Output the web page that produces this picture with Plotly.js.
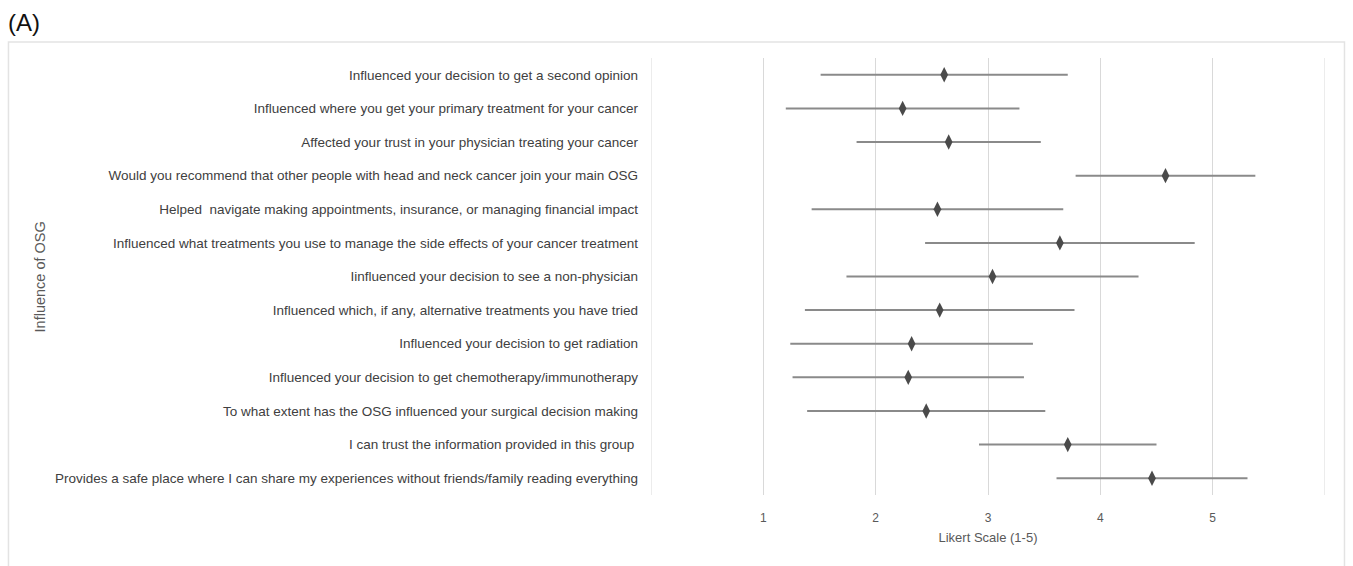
<!DOCTYPE html>
<html>
<head>
<meta charset="utf-8">
<script src="https://cdn.plot.ly/plotly-3.0.1.min.js"></script>
<style>
html,body{margin:0;padding:0;background:#fff;}
#chart{width:1353px;height:566px;}
</style>
</head>
<body>
<div id="chart"></div>
<script>
const items = [
  "Influenced your decision to get a second opinion",
  "Influenced where you get your primary treatment for your cancer",
  "Affected your trust in your physician treating your cancer",
  "Would you recommend that other people with head and neck cancer join your main OSG",
  "Helped  navigate making appointments, insurance, or managing financial impact",
  "Influenced what treatments you use to manage the side effects of your cancer treatment",
  "Iinfluenced your decision to see a non-physician",
  "Influenced which, if any, alternative treatments you have tried",
  "Influenced your decision to get radiation",
  "Influenced your decision to get chemotherapy/immunotherapy",
  "To what extent has the OSG influenced your surgical decision making",
  "I can trust the information provided in this group ",
  "Provides a safe place where I can share my experiences without friends/family reading everything"
];
const means = [2.61, 2.24, 2.65, 4.58, 2.55, 3.64, 3.04, 2.57, 2.32, 2.29, 2.45, 3.71, 4.46];
const sds   = [1.10, 1.04, 0.82, 0.80, 1.12, 1.20, 1.30, 1.20, 1.08, 1.03, 1.06, 0.79, 0.85];
const tickVals = [0, 1, 2, 3, 4, 5, 6];
const tickText = ["", "1", "2", "3", "4", "5", ""];

const L = 651, R = 27.5, T = 58, B = 71;
const W = 1353 - L - R, H = 566 - T - B;
const px = v => (v - L) / W;
const py = v => (566 - B - v) / H;

const trace = {
  type: "scatter",
  mode: "markers",
  x: means,
  y: items,
  marker: {symbol: "diamond-tall", size: 11, color: "#4a4a4a"},
  error_x: {type: "data", array: sds, visible: true, width: 0, thickness: 2, color: "#8a8a8a"},
  hoverinfo: "x+y"
};

const edgeLines = [tickVals[0], tickVals[tickVals.length - 1]].map(v => ({
  type: "line", xref: "x", yref: "paper", x0: v, x1: v, y0: 0, y1: 1,
  line: {color: "#d9d9d9", width: 1}, layer: "below"
}));

const layout = {
  width: 1353, height: 566,
  margin: {l: L, r: R, t: T, b: B, pad: 0},
  paper_bgcolor: "#ffffff",
  plot_bgcolor: "#ffffff",
  showlegend: false,
  font: {family: "Liberation Sans, Arial, sans-serif", color: "#404040"},
  xaxis: {
    range: [0, 6],
    tickvals: tickVals,
    ticktext: tickText,
    showgrid: true,
    gridcolor: "#d9d9d9",
    gridwidth: 1,
    zeroline: false,
    showline: false,
    ticks: "",
    tickfont: {size: 12, color: "#595959"},
    ticklabelstandoff: 14,
    title: {text: "Likert Scale (1-5)", font: {size: 13, color: "#595959"}, standoff: 8}
  },
  yaxis: {
    type: "category",
    categoryorder: "array",
    categoryarray: items,
    range: [items.length - 0.5, -0.5],
    showgrid: false,
    zeroline: false,
    showline: false,
    ticks: "",
    tickfont: {size: 13.5, color: "#404040"},
    ticklabelstandoff: 12,
    automargin: false
  },
  shapes: edgeLines.concat([
    {type: "rect", xref: "paper", yref: "paper",
     x0: px(8), x1: px(1345), y0: py(570), y1: py(42),
     line: {color: "#e3e3e3", width: 1.5}, fillcolor: "rgba(0,0,0,0)", layer: "below"}
  ]),
  annotations: [
    {text: "(A)", xref: "paper", yref: "paper", x: px(6), y: py(23),
     xanchor: "left", yanchor: "middle", showarrow: false,
     font: {size: 24, color: "#111111"}},
    {text: "Influence of OSG", xref: "paper", yref: "paper", x: px(40), y: py(277),
     xanchor: "center", yanchor: "middle", textangle: -90, showarrow: false,
     font: {size: 14.5, color: "#595959"}}
  ]
};

Plotly.newPlot("chart", [trace], layout, {displayModeBar: false, staticPlot: true});
</script>
</body>
</html>
